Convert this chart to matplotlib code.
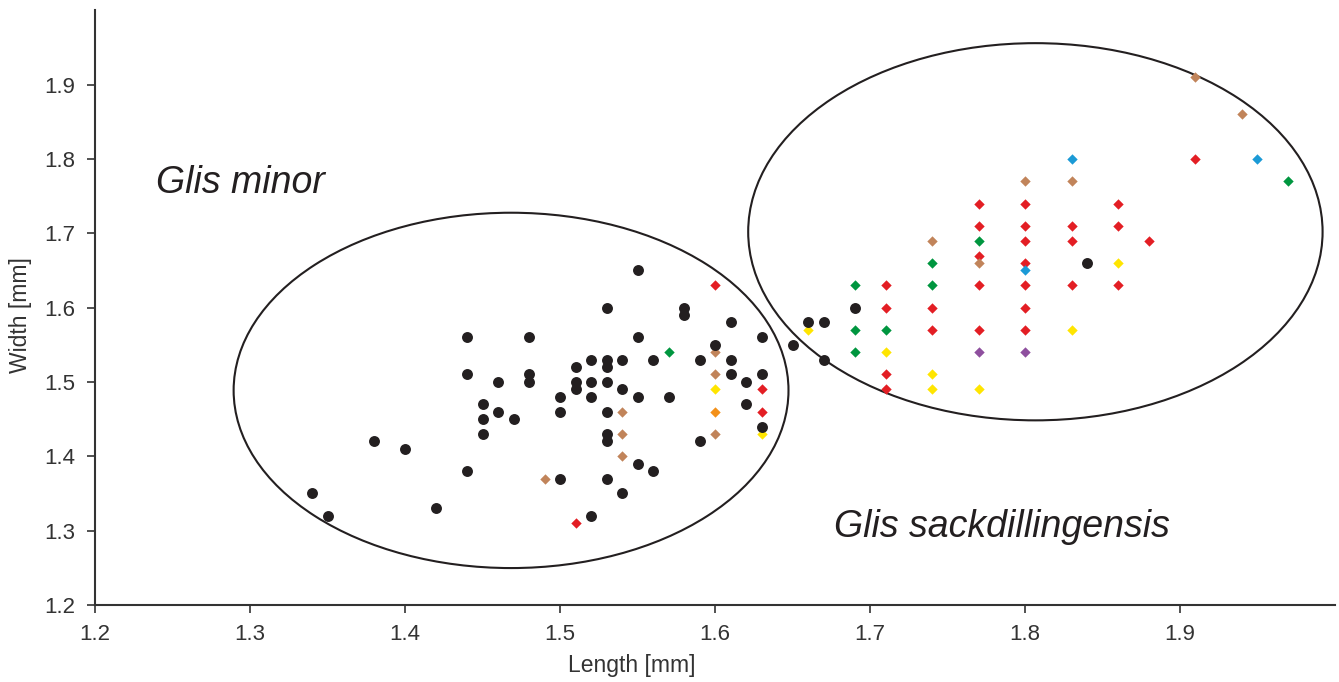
import numpy as np
import matplotlib.pyplot as plt
from matplotlib.patches import Ellipse

plt.rcParams['font.family'] = ['Liberation Sans', 'DejaVu Sans']

# Glis minor (black dots)
minor_len = [1.34, 1.35, 1.38, 1.40, 1.42, 1.44, 1.44, 1.44, 1.45, 1.45, 1.45, 1.46, 1.46, 1.47,
             1.48, 1.48, 1.48, 1.50, 1.50, 1.50, 1.51, 1.51, 1.51, 1.52, 1.52, 1.52, 1.52,
             1.53, 1.53, 1.53, 1.53, 1.53, 1.53, 1.53, 1.53, 1.54, 1.54, 1.54, 1.55, 1.55, 1.55, 1.55,
             1.56, 1.56, 1.57, 1.58, 1.58, 1.59, 1.59, 1.60, 1.61, 1.61, 1.61, 1.62, 1.62,
             1.63, 1.63, 1.63, 1.65, 1.66, 1.67, 1.67, 1.69, 1.84]
minor_wid = [1.35, 1.32, 1.42, 1.41, 1.33, 1.56, 1.51, 1.38, 1.47, 1.45, 1.43, 1.50, 1.46, 1.45,
             1.56, 1.51, 1.50, 1.48, 1.46, 1.37, 1.52, 1.50, 1.49, 1.53, 1.50, 1.48, 1.32,
             1.60, 1.53, 1.52, 1.50, 1.46, 1.43, 1.42, 1.37, 1.53, 1.49, 1.35, 1.65, 1.56, 1.48, 1.39,
             1.53, 1.38, 1.48, 1.60, 1.59, 1.53, 1.42, 1.55, 1.58, 1.53, 1.51, 1.50, 1.47,
             1.56, 1.51, 1.44, 1.55, 1.58, 1.58, 1.53, 1.60, 1.66]

# Glis sackdillingensis (coloured diamonds, one colour per sample)
red_len = [1.51, 1.60, 1.63, 1.63, 1.71, 1.71, 1.71, 1.71, 1.74, 1.74, 1.77, 1.77, 1.77, 1.77, 1.77,
           1.80, 1.80, 1.80, 1.80, 1.80, 1.80, 1.80, 1.83, 1.83, 1.83, 1.86, 1.86, 1.86, 1.88, 1.91]
red_wid = [1.31, 1.63, 1.49, 1.46, 1.63, 1.60, 1.51, 1.49, 1.60, 1.57, 1.74, 1.71, 1.67, 1.63, 1.57,
           1.74, 1.71, 1.69, 1.66, 1.63, 1.60, 1.57, 1.71, 1.69, 1.63, 1.74, 1.71, 1.63, 1.69, 1.80]
brown_len = [1.49, 1.54, 1.54, 1.54, 1.60, 1.60, 1.60, 1.74, 1.77, 1.80, 1.83, 1.91, 1.94]
brown_wid = [1.37, 1.46, 1.43, 1.40, 1.54, 1.51, 1.43, 1.69, 1.66, 1.77, 1.77, 1.91, 1.86]
green_len = [1.57, 1.69, 1.69, 1.69, 1.71, 1.74, 1.74, 1.77, 1.97]
green_wid = [1.54, 1.63, 1.57, 1.54, 1.57, 1.66, 1.63, 1.69, 1.77]
yellow_len = [1.60, 1.63, 1.66, 1.71, 1.74, 1.74, 1.77, 1.83, 1.86]
yellow_wid = [1.49, 1.43, 1.57, 1.54, 1.51, 1.49, 1.49, 1.57, 1.66]
orange_len = [1.60]
orange_wid = [1.46]
blue_len = [1.80, 1.83, 1.95]
blue_wid = [1.65, 1.80, 1.80]
purple_len = [1.77, 1.80]
purple_wid = [1.54, 1.54]

groups = [(red_len, red_wid, '#e31e24'),
          (brown_len, brown_wid, '#c1845a'),
          (green_len, green_wid, '#00963f'),
          (yellow_len, yellow_wid, '#ffe500'),
          (orange_len, orange_wid, '#f39019'),
          (blue_len, blue_wid, '#1b9ad6'),
          (purple_len, purple_wid, '#8e4f9e')]

fig = plt.figure(figsize=(13.39, 6.82), dpi=100)
ax = fig.add_axes([0.071, 0.113, 0.926, 0.872])

for gx, gy, col in groups:
    ax.scatter(gx, gy, marker='D', s=28, color=col, linewidths=0, zorder=3)
ax.scatter(minor_len, minor_wid, marker='o', s=62, color='#231f20', linewidths=0, zorder=4)

# outline ellipses around the two species
ax.add_patch(Ellipse((1.4684, 1.4886), 2 * 0.179, 2 * 0.239, fill=False, ec='#231f20', lw=1.5, zorder=2))
ax.add_patch(Ellipse((1.8067, 1.702), 2 * 0.1853, 2 * 0.2537, fill=False, ec='#231f20', lw=1.5, zorder=2))

ax.text(1.239, 1.7675, 'Glis minor', style='italic', fontsize=27, color='#231f20', va='center')
ax.text(1.677, 1.3045, 'Glis sackdillingensis', style='italic', fontsize=27, color='#231f20', va='center')

ax.set_xlim(1.2, 2.0)
ax.set_ylim(1.2, 2.0)
ticks = [1.2, 1.3, 1.4, 1.5, 1.6, 1.7, 1.8, 1.9]
ax.set_xticks(ticks)
ax.set_yticks(ticks)
ax.set_xticklabels([f'{t:.1f}' for t in ticks])
ax.set_yticklabels([f'{t:.1f}' for t in ticks])
ax.tick_params(direction='out', length=6, width=1.2, colors='#333333', labelsize=16, pad=8)
ax.set_xlabel('Length [mm]', fontsize=16.5, color='#333333')
ax.set_ylabel('Width [mm]', fontsize=16.5, color='#333333')
ax.xaxis.set_label_coords(0.433, -0.083)
ax.yaxis.set_label_coords(-0.051, 0.487)

for s in ['top', 'right']:
    ax.spines[s].set_visible(False)
for s in ['left', 'bottom']:
    ax.spines[s].set_color('#333333')
    ax.spines[s].set_linewidth(1.5)

fig.savefig('out.png', dpi=100)
